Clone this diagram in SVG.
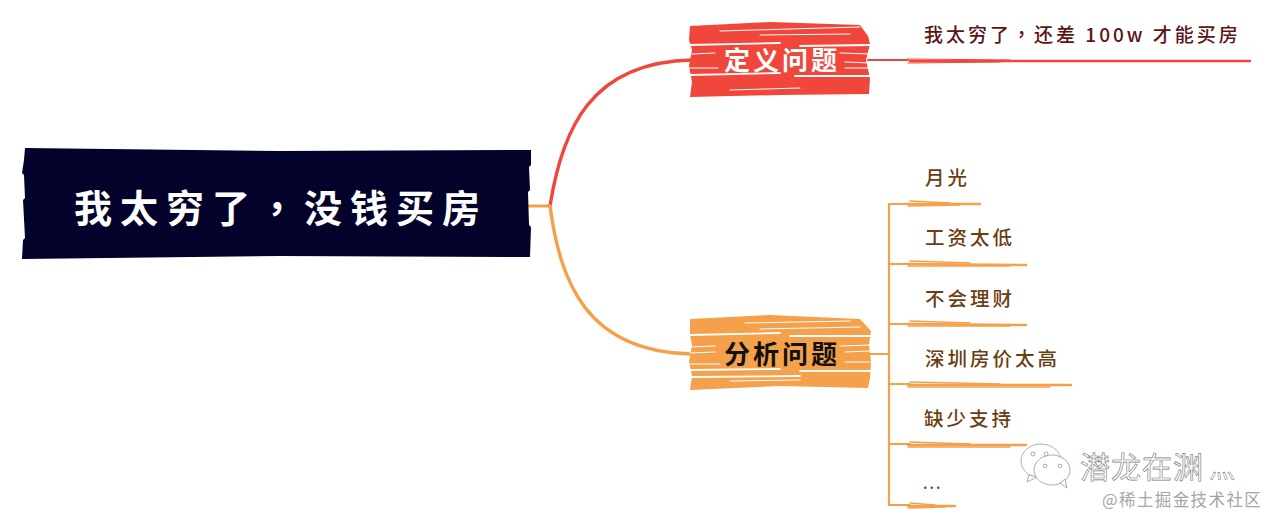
<svg xmlns="http://www.w3.org/2000/svg" width="1280" height="525" viewBox="0 0 1280 525">
<style>
text{font-family:"Noto Sans CJK SC","Noto Sans",sans-serif}
.tc{font-family:"Noto Sans CJK TC",sans-serif}
.con{fill:none;stroke-linecap:round;stroke-linejoin:round}
.red{stroke:#f0463c}
.org{stroke:#f5a04a}
.g{fill:none;stroke:#fff;stroke-linecap:round}
.leaf{font-size:19.5px;font-weight:500;fill:#6b3d10;letter-spacing:3px}
.st{fill:none;stroke:#f5a04a;stroke-width:1.4;stroke-linecap:round}
.st2{fill:none;stroke:#f5a04a;stroke-width:2.4;stroke-linecap:round}
.mark{fill:#fff;stroke:#8a8a8a;stroke-width:.7}
</style>
<rect width="1280" height="525" fill="#fff"/>
<g id="connectors">
<path class="con org" stroke-width="3" d="M529 206H550"/>
<path class="con red" stroke-width="3.4" d="M550 206C562 130 590 62 692 60"/>
<path class="con org" stroke-width="3.4" d="M550 206C560 280 585 352 692 354"/>
<path class="con red" stroke-width="2" d="M868 60H908"/>
<path class="con org" stroke-width="2" d="M868 354H889"/>
<path class="con org" stroke-width="2.2" d="M889 204V505"/>
<path class="con org" stroke-width="2" d="M889 204H910M889 264H910M889 324H910M889 384H910M889 444H910M889 505H910"/>
</g>
<g id="root">
<path fill="#02022a" d="M25 148L280 151L531 150L531 165L529 167L530 190L528 192L529 225L531 227L530 257L280 256L22 259L23 240L25 238L23 200L25 198L24 175L22 173L24 160Z"/>
<text x="74" y="222" font-size="38" font-weight="700" fill="#fff" letter-spacing="8">我太穷了<tspan class="tc">&#xFF0C;</tspan>没钱买房</text>
</g>
<g id="define">
<path fill="#f0463c" d="M690 26L770 22L860 25L868 36L870 44L866 60L870 78L869 94L780 95L690 97L692 82L689 66L692 50L689 40Z"/>
<path class="g" stroke-width="1" d="M720 31L860 27M760 35L850 34M692 54L715 53M840 53L870 54M845 62L870 63M690 68L718 68M845 68L868 68M730 90L800 88"/>
<path class="g" stroke-width="1.800" d="M689 45L780 43M800 46L870 45M690 75L780 73M795 76L870 76"/>
<text x="724" y="70" font-size="26" font-weight="700" fill="#fff" letter-spacing="3">定义问题</text>
</g>
<g id="define-leaf">
<text x="924" y="42" font-size="19" font-weight="500" fill="#5c1414" letter-spacing="3">我太穷了<tspan class="tc">&#xFF0C;</tspan>还差 100w 才能买房</text>
<path class="con red" stroke-width="2.4" d="M910 61L1250 61"/>
<path class="con red" stroke-width="1.2" d="M908 59L1010 60M908 63L1000 62"/>
</g>
<g id="analyze">
<path fill="#f5a04a" d="M690 319L770 315L860 319L871 331L869 345L871 362L870 378L868 388L780 386L690 390L692 376L689 362L692 345L690 335Z"/>
<path class="g" stroke-width="1" d="M745 323L850 321M760 329L860 327M690 347L715 346M840 346L871 345M690 353L715 352M845 352L871 351M690 364L720 364M845 362L870 362M730 381L800 380"/>
<path class="g" stroke-width="1.800" d="M689 335L780 333M790 336L870 336M690 370L780 369M800 371L871 371M692 377L800 376"/>
<text x="724" y="364" font-size="26" font-weight="700" fill="#111" letter-spacing="3">分析问题</text>
</g>
<g id="leaf-1"><text class="leaf" x="925" y="185">月光</text>
<path class="st2" d="M908 204L980 204"/><path class="st" d="M910 201L950 203M908 206L960 205"/></g>
<g id="leaf-2"><text class="leaf" x="925" y="245">工资太低</text>
<path class="st2" d="M908 264L1026 265"/><path class="st" d="M910 261L970 263M908 266L1010 266"/></g>
<g id="leaf-3"><text class="leaf" x="925" y="306">不会理财</text>
<path class="st2" d="M908 324L1026 325"/><path class="st" d="M910 321L970 323M908 326L1010 326"/></g>
<g id="leaf-4"><text class="leaf" x="925" y="366">深圳房价太高</text>
<path class="st2" d="M908 385L1071 385"/><path class="st" d="M910 382L1000 384M908 387L1050 387"/></g>
<g id="leaf-5"><text class="leaf" x="924" y="426">缺少支持</text>
<path class="st2" d="M908 445L1026 445"/><path class="st" d="M910 442L970 444M908 447L1010 447"/></g>
<g id="leaf-6"><text x="923" y="489" font-size="15" font-weight="500" fill="#6b3d10" letter-spacing="2">...</text>
<path class="st2" d="M908 506L955 506"/><path class="st" d="M910 503L935 505M908 508L945 507"/></g>
<g id="watermark">
<ellipse class="mark" cx="1041" cy="461" rx="20" ry="17"/>
<path class="mark" d="M1029 475L1027 482L1037 477Z"/>
<ellipse class="mark" cx="1052" cy="470" rx="18" ry="15"/>
<path class="mark" d="M1060 483L1067 488L1065 479Z"/>
<circle class="mark" cx="1033" cy="454" r="2"/><circle class="mark" cx="1046" cy="454" r="2"/>
<circle class="mark" cx="1045" cy="466" r="1.800"/><circle class="mark" cx="1060" cy="466" r="1.800"/>
<text x="1080" y="478" font-size="30" fill="#fff" stroke="#777" stroke-width=".6" letter-spacing="1">潜龙在渊</text>
<text x="1209" y="478" font-size="26" fill="#fff" stroke="#777" stroke-width=".5">灬</text>
<text x="1102" y="506" font-size="16.500" fill="#a5a5a5" letter-spacing="1.400">@稀土掘金技术社区</text>
</g>
</svg>
